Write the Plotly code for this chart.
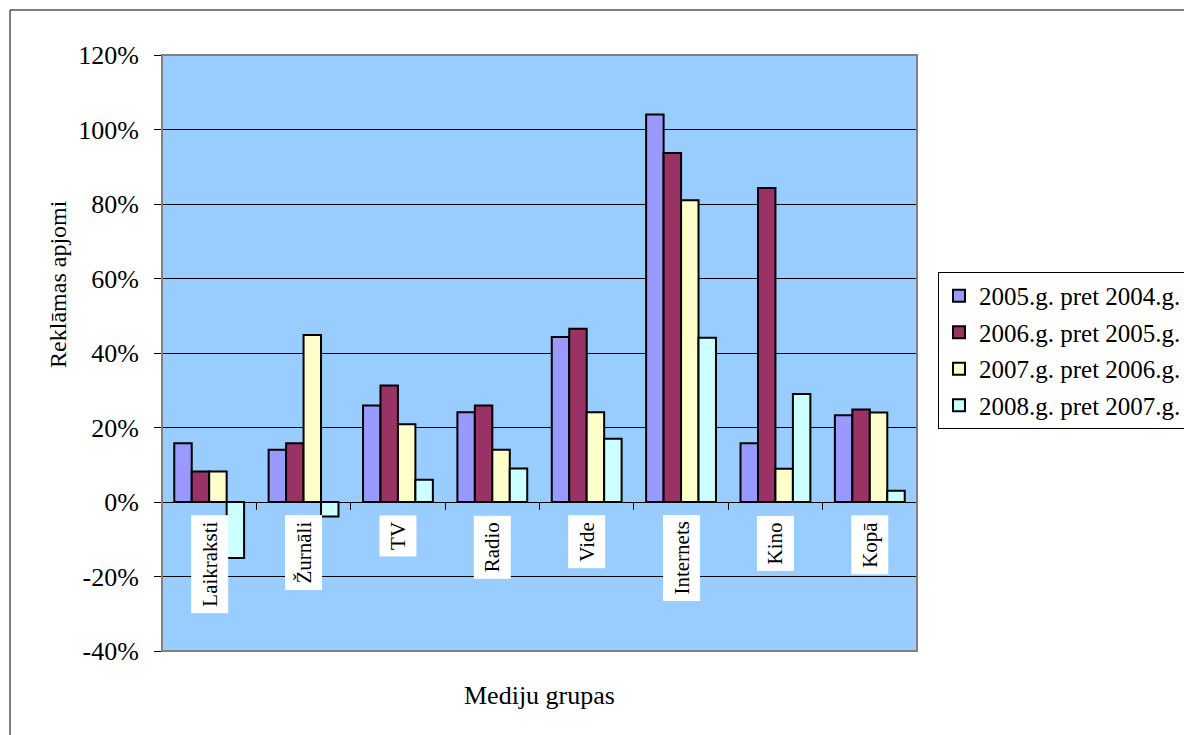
import plotly.graph_objects as go

# Media groups and year-over-year change of advertising volume (%)
categories = ["Laikraksti", "Žurnāli", "TV", "Radio", "Vide", "Internets", "Kino", "Kopā"]
series_names = ["2005.g. pret 2004.g.", "2006.g. pret 2005.g.",
                "2007.g. pret 2006.g.", "2008.g. pret 2007.g."]
v2005 = [15.8, 14.0, 25.9, 24.1, 44.3, 104.0, 15.8, 23.3]
v2006 = [8.2, 15.8, 31.3, 25.9, 46.5, 93.7, 84.3, 24.8]
v2007 = [8.2, 44.8, 20.9, 14.0, 24.1, 81.0, 8.9, 24.0]
v2008 = [-15.0, -3.9, 6.0, 9.0, 17.0, 44.1, 29.0, 3.0]
series_values = [v2005, v2006, v2007, v2008]
colors = ["#9999FF", "#993366", "#FFFFCC", "#CCFFFF"]

tick_values = [-40, -20, 0, 20, 40, 60, 80, 100, 120]
tick_labels = ["-40%", "-20%", "0%", "20%", "40%", "60%", "80%", "100%", "120%"]

FONT = "'Liberation Serif', 'Times New Roman', Times, serif"

fig = go.Figure()
for i, (name, vals, col) in enumerate(zip(series_names, series_values, colors)):
    fig.add_trace(go.Bar(
        x=categories, y=vals, name=name, legendgroup=f"g{i}",
        marker=dict(color=col, line=dict(color="black", width=2)),
    ))

# category labels on white boxes just below the zero line
for cat in categories:
    fig.add_annotation(
        x=cat, y=0, xref="x", yref="y", text=cat, textangle=-90,
        showarrow=False, yanchor="top", xanchor="center", yshift=-13,
        bgcolor="white", borderpad=6,
        font=dict(family=FONT, size=21, color="black"),
    )

# axis titles
fig.add_annotation(
    x=-0.1377, y=0.616, xref="paper", yref="paper", text="Reklāmas apjomi",
    textangle=-90, showarrow=False, xanchor="center", yanchor="middle",
    font=dict(family=FONT, size=24, color="black"),
)
fig.add_annotation(
    x=0.5, y=-0.0755, xref="paper", yref="paper", text="Mediju grupas",
    showarrow=False, xanchor="center", yanchor="middle",
    font=dict(family=FONT, size=26, color="black"),
)

# plot-area border and outer chart frame
fig.add_shape(type="rect", xref="paper", yref="paper", x0=0, y0=0, x1=1, y1=1,
              line=dict(color="#808080", width=2), layer="above")
fig.add_shape(type="rect", xref="paper", yref="paper",
              x0=-0.2013, y0=-0.16, x1=1.37, y1=1.0755,
              line=dict(color="black", width=1))

fig.update_layout(
    width=1184, height=735,
    margin=dict(l=162, r=267, t=55, b=84, autoexpand=False),
    paper_bgcolor="white", plot_bgcolor="#99CCFF",
    barmode="group", bargap=0.26, bargroupgap=0,
    font=dict(family=FONT, size=24, color="black"),
    showlegend=True,
    legend=dict(
        x=1.0278, y=0.636, xanchor="left", yanchor="top",
        bordercolor="black", borderwidth=1, bgcolor="white",
        font=dict(family=FONT, size=25, color="black"),
        traceorder="grouped", tracegroupgap=1, itemwidth=30,
    ),
    xaxis=dict(
        anchor="free", position=0.25, showline=True, linecolor="black", linewidth=1,
        ticks="outside", tickson="boundaries", ticklen=7, tickcolor="black",
        showticklabels=False, showgrid=False, zeroline=False,
    ),
    yaxis=dict(
        range=[-40, 120], tickvals=tick_values, ticktext=tick_labels,
        ticks="outside", ticklen=7, tickcolor="black",
        showgrid=True, gridcolor="black", gridwidth=1,
        zeroline=True, zerolinecolor="black", zerolinewidth=1,
        showline=False, ticklabelstandoff=10,
        tickfont=dict(family=FONT, size=26, color="black"),
    ),
)

fig.write_html("out.html")
